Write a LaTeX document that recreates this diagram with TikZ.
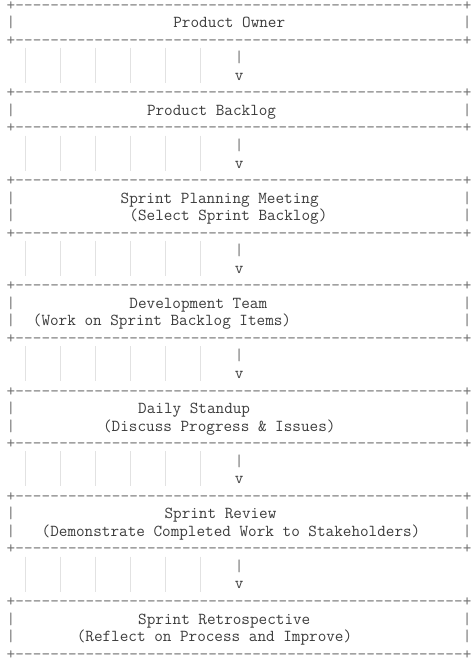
\documentclass[tikz,border=0pt]{standalone}
\usepackage{xcolor}
\definecolor{txtcol}{HTML}{3C3C3C}
\definecolor{rulecol}{HTML}{707070}
\definecolor{guidecol}{HTML}{E2E2E2}
\newcommand\colx[1]{(6.6+8.775*(#1))}
\newcommand\rowy[1]{(-10.16-17.54*(#1))}
\tikzset{
  txt/.style={font=\ttfamily\fontsize{16.71}{18}\selectfont, inner sep=0pt, outer sep=0pt, anchor=base west, text=txtcol},
  rulechar/.style={txt, text=rulecol},
  guide/.style={draw=guidecol, line width=0.8pt}
}
\newcommand\hborder[2]{%
  \node[rulechar] (#1-0) at ({\colx{0}},{\rowy{#2}}) {+};
  \foreach \c in {1,...,51}
    \node[rulechar] (#1-\c) at ({\colx{\c}},{\rowy{#2}}) {-};
  \node[rulechar] (#1-52) at ({\colx{52}},{\rowy{#2}}) {+};}
\newcommand\textrow[4]{%
  \node[rulechar] (#1-L) at ({\colx{0}},{\rowy{#2}}) {|};
  \node[txt] (#1) at ({\colx{#3}},{\rowy{#2}}) {#4};
  \node[rulechar] (#1-R) at ({\colx{52}},{\rowy{#2}}) {|};}
\newcommand\arrowrows[2]{%
  \foreach \j in {0,...,5}
    \draw[guide] ({25+35.1*\j},{\rowy{#2}+14.8}) -- ({25+35.1*\j},{\rowy{#2+1}-2.6});
  \node[rulechar] (#1-shaft) at ({\colx{26}},{\rowy{#2}}) {|};
  \node[txt] (#1-head) at ({\colx{26}},{\rowy{#2+1}}) {v};}
\begin{document}
\begin{tikzpicture}[x=1pt,y=1pt]
\fill[white] (0,0) rectangle (474,-658);
\useasboundingbox (0,0) rectangle (474,-658);
% Product Owner
\hborder{po-top}{0}
\textrow{po}{1}{19}{Product Owner}
\hborder{po-bot}{2}
\arrowrows{a1}{3}
% Product Backlog
\hborder{pb-top}{5}
\textrow{pb}{6}{16}{Product Backlog}
\hborder{pb-bot}{7}
\arrowrows{a2}{8}
% Sprint Planning Meeting
\hborder{spm-top}{10}
\textrow{spm1}{11}{13}{Sprint Planning Meeting}
\textrow{spm2}{12}{14}{(Select Sprint Backlog)}
\hborder{spm-bot}{13}
\arrowrows{a3}{14}
% Development Team
\hborder{dt-top}{16}
\textrow{dt1}{17}{14}{Development Team}
\textrow{dt2}{18}{3}{(Work on Sprint Backlog Items)}
\hborder{dt-bot}{19}
\arrowrows{a4}{20}
% Daily Standup
\hborder{ds-top}{22}
\textrow{ds1}{23}{15}{Daily Standup}
\textrow{ds2}{24}{11}{(Discuss Progress \& Issues)}
\hborder{ds-bot}{25}
\arrowrows{a5}{26}
% Sprint Review
\hborder{sr-top}{28}
\textrow{sr1}{29}{18}{Sprint Review}
\textrow{sr2}{30}{4}{(Demonstrate Completed Work to Stakeholders)}
\hborder{sr-bot}{31}
\arrowrows{a6}{32}
% Sprint Retrospective
\hborder{ret-top}{34}
\textrow{ret1}{35}{15}{Sprint Retrospective}
\textrow{ret2}{36}{8}{(Reflect on Process and Improve)}
\hborder{ret-bot}{37}
\end{tikzpicture}
\end{document}
